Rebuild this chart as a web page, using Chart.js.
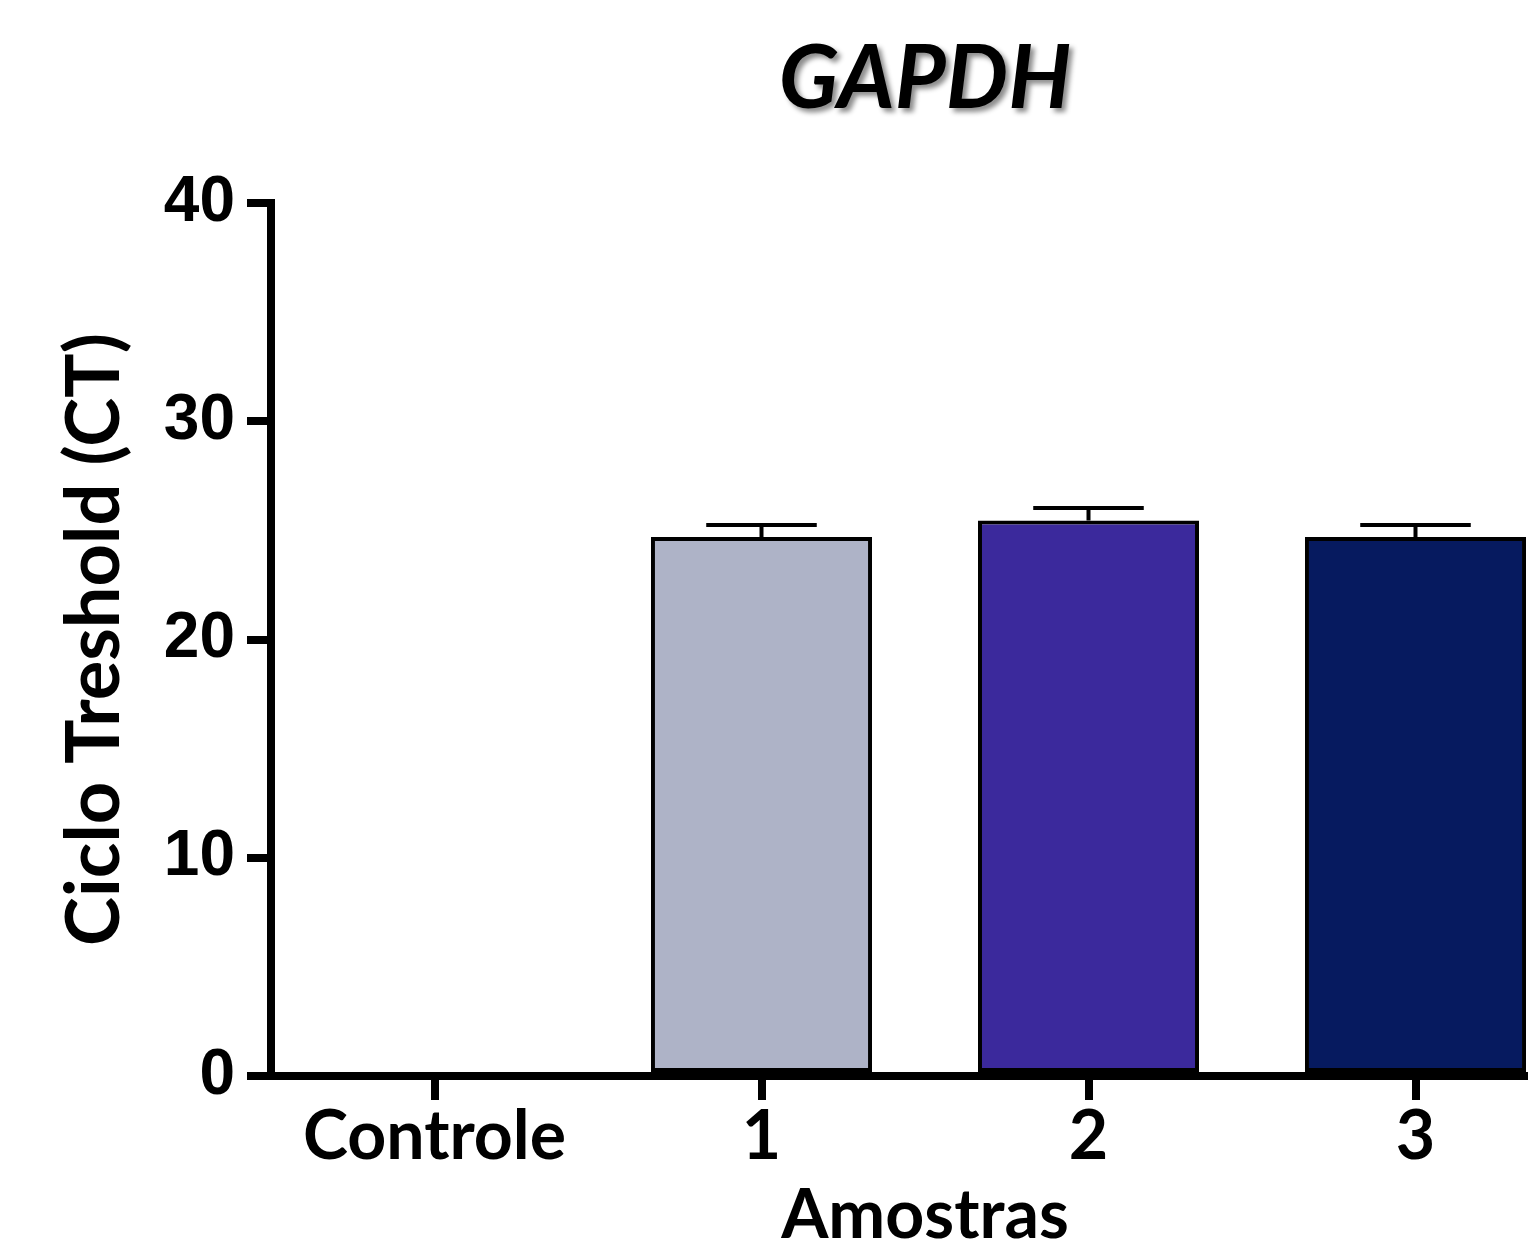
<!DOCTYPE html>
<html>
<head>
<meta charset="utf-8">
<script src="https://cdn.jsdelivr.net/npm/chart.js@4.4.0/dist/chart.umd.min.js"></script>
<style>
  html, body { margin: 0; padding: 0; overflow: hidden; background: #fff; }
  canvas { display: block; }
</style>
</head>
<body>
<canvas id="c" width="1580" height="1243"></canvas>
<script>
const categories = ['Controle', '1', '2', '3'];
const ctValues = [0, 24.7, 25.45, 24.7];
const ctErrors = [0, 0.55, 0.57, 0.55];
const barColors = ['#ffffff', '#AEB3C7', '#3B299C', '#061A5F'];
const yTicks = [0, 10, 20, 30, 40];

const errorBars = {
  id: 'errorBars',
  afterDatasetsDraw(chart) {
    const ctx = chart.ctx;
    const yScale = chart.scales.y;
    const meta = chart.getDatasetMeta(0);
    ctx.save();
    ctx.strokeStyle = '#000';
    ctx.lineWidth = 4;
    ctx.lineCap = 'butt';
    meta.data.forEach((bar, i) => {
      const e = ctErrors[i];
      if (!e) return;
      const top = yScale.getPixelForValue(ctValues[i] + e);
      const half = bar.width / 4;
      ctx.beginPath();
      ctx.moveTo(bar.x, bar.y);
      ctx.lineTo(bar.x, top);
      ctx.moveTo(bar.x - half, top);
      ctx.lineTo(bar.x + half, top);
      ctx.stroke();
    });
    ctx.restore();
  }
};

const titleShadow = {
  id: 'titleShadow',
  beforeDraw(chart) {
    const tb = chart.titleBlock;
    if (tb && !tb._shadowPatched) {
      const orig = tb.draw.bind(tb);
      tb.draw = function () {
        const ctx = chart.ctx;
        ctx.save();
        ctx.shadowColor = 'rgba(0,0,0,0.45)';
        ctx.shadowOffsetX = 4;
        ctx.shadowOffsetY = 4;
        ctx.shadowBlur = 5;
        orig();
        ctx.restore();
      };
      tb._shadowPatched = true;
    }
  }
};

new Chart(document.getElementById('c'), {
  type: 'bar',
  data: {
    labels: categories,
    datasets: [{
      data: ctValues,
      backgroundColor: barColors,
      borderColor: '#000',
      borderWidth: 4,
      borderSkipped: false,
      barPercentage: 0.676,
      categoryPercentage: 1.0
    }]
  },
  options: {
    responsive: false,
    animation: false,
    devicePixelRatio: 1,
    layout: { padding: { left: 0, right: 1, top: 0, bottom: 0 } },
    plugins: {
      legend: { display: false },
      tooltip: { enabled: false },
      title: {
        display: true,
        text: 'GAPDH',
        color: '#000',
        fullSize: false,
        font: { family: 'Lato', weight: 'bold', style: 'italic', size: 88, lineHeight: 1.2 },
        padding: { top: 27, bottom: 70.4 }
      }
    },
    scales: {
      x: {
        type: 'category',
        offset: true,
        grid: {
          display: true,
          offset: false,
          drawOnChartArea: false,
          drawTicks: true,
          tickLength: 24,
          tickWidth: 8,
          lineWidth: 8,
          color: '#000'
        },
        border: { display: true, color: '#000', width: 8 },
        ticks: {
          color: '#000',
          padding: 0,
          font: { family: 'Lato', weight: 'bold', size: 68, lineHeight: 1.1 }
        },
        title: {
          display: true,
          text: 'Amostras',
          color: '#000',
          font: { family: 'Lato', weight: 'bold', size: 68, lineHeight: 0.8 },
          padding: { top: 0, bottom: 0 }
        },
        afterFit(s) { s.height = 167; }
      },
      y: {
        min: 0,
        max: 40,
        afterBuildTicks(s) { s.ticks = yTicks.map(v => ({ value: v })); },
        grid: {
          display: true,
          drawOnChartArea: false,
          drawTicks: true,
          tickLength: 24,
          tickWidth: 8,
          lineWidth: 8,
          color: '#000'
        },
        border: { display: true, color: '#000', width: 8 },
        ticks: {
          color: '#000',
          padding: 12,
          font: { family: 'Liberation Sans', weight: 'bold', size: 64 }
        },
        title: {
          display: true,
          text: 'Ciclo Treshold (CT)',
          color: '#000',
          font: { family: 'Lato', weight: 'bold', size: 74, lineHeight: 1.2 },
          padding: { top: 51, bottom: 0 }
        },
        afterFit(s) { s.width = 271; }
      }
    }
  },
  plugins: [errorBars, titleShadow]
});
</script>
</body>
</html>
